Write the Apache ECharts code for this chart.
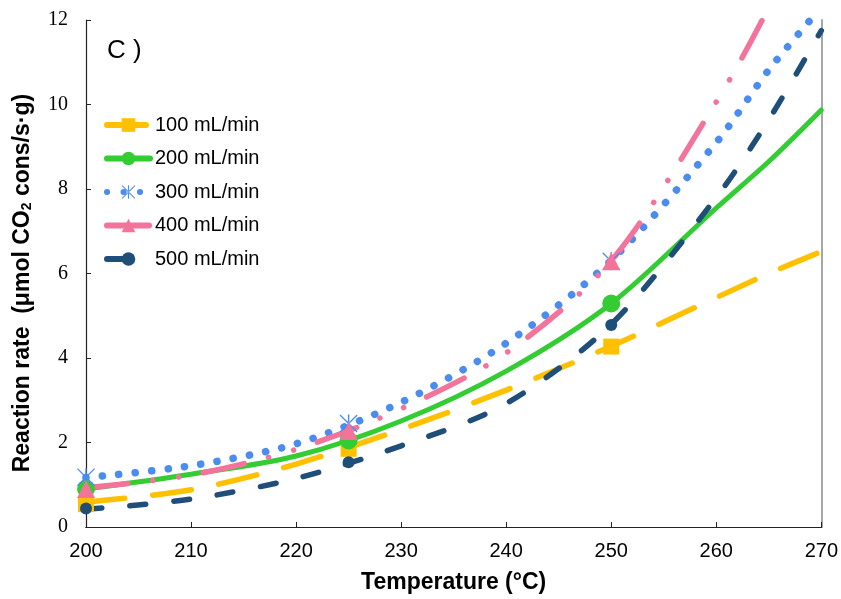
<!DOCTYPE html>
<html>
<head>
<meta charset="utf-8">
<script src="https://cdn.jsdelivr.net/npm/echarts@6/dist/echarts.min.js"></script>
<style>
  html, body { margin: 0; padding: 0; background: #fff; }
  #chart { width: 841px; height: 599px; }
</style>
</head>
<body>
<div id="chart"></div>
<script>
// trend curves
const temps = [200, 210, 220, 230, 240, 250, 260, 265, 270];
const fit100 = [0.59, 0.88, 1.49, 2.31, 3.24, 4.28, 5.43, 6.0, 6.52];
const fit200 = [0.90, 1.25, 1.68, 2.51, 3.69, 5.29, 7.55, 8.65, 9.87];
const fit300 = [1.17, 1.45, 1.97, 2.95, 4.35, 6.31, 9.1, 10.82, 12.3];
const fit400 = [0.93, 1.23, 1.84, 2.80, 4.12, 6.30, 10.06, 12.3, 15.0];
const fit500 = [0.42, 0.66, 1.15, 1.92, 2.92, 4.80, 7.80, 9.64, 11.75];

// measured points
const measTemps = [200, 225, 250];
const meas100 = [0.54, 1.85, 4.27];
const meas200 = [0.90, 2.05, 5.29];
const meas300 = [1.18, 2.45, 6.29];
const meas400 = [0.90, 2.27, 6.29];
const meas500 = [0.44, 1.53, 4.78];

const names = ["100 mL/min", "200 mL/min", "300 mL/min", "400 mL/min", "500 mL/min"];

const starPath = "path://M4.6,0 h0.8 v10 h-0.8z M0,0.5 L0.5,0 L10,9.5 L9.5,10z M10,0.5 L9.5,0 L0,9.5 L0.5,10z";

function pairs(xs, ys) {
  return xs.map((x, i) => [x, ys[i]]);
}

const styles = [
  { color: "#FFC000", symbol: "rect", size: 16, width: 5.5, type: [39, 28] },
  { color: "#33CC33", symbol: "circle", size: 18, width: 5, type: "solid" },
  { color: "#4A8CF0", symbol: starPath, size: 18, width: 7.5, type: [0.1, 16.4] },
  { color: "#F4739B", symbol: "triangle", size: 18, width: 5.5, type: [42, 25, 0.1, 26, 0.1, 25] },
  { color: "#1F4E79", symbol: "circle", size: 12, width: 5.5, type: [16, 28] }
];
const fits = [fit100, fit200, fit300, fit400, fit500];
const meas = [meas100, meas200, meas300, meas400, meas500];

let series = [];
names.forEach((n, i) => {
  const s = styles[i];
  series.push({
    name: n,
    type: "line",
    data: pairs(temps, fits[i]),
    smooth: 0.3,
    symbol: s.symbol,
    showSymbol: false,
    itemStyle: { color: s.color },
    lineStyle: { color: s.color, width: s.width, type: s.type, cap: "round" },
    z: 2
  });
});
names.forEach((n, i) => {
  const s = styles[i];
  series.push({
    name: n,
    type: "scatter",
    data: pairs(measTemps, meas[i]),
    symbol: s.symbol,
    symbolSize: s.size,
    itemStyle: { color: s.color, opacity: 1 },
    z: 3
  });
});

let myChart = echarts.init(document.getElementById("chart"));
myChart.setOption({
  animation: false,
  title: {
    text: "C )",
    left: 102,
    top: 33,
    textStyle: { fontFamily: "Liberation Sans", fontSize: 26, fontWeight: "normal", color: "#000" }
  },
  legend: {
    data: names,
    orient: "vertical",
    left: 104,
    top: 115,
    padding: 0,
    itemWidth: 43,
    itemHeight: 17,
    itemGap: 13.5,
    lineStyle: { width: 6, cap: "round" },
    textStyle: { fontFamily: "Liberation Sans", fontSize: 20, color: "#000" }
  },
  grid: { left: 86, right: 17, top: 20, bottom: 71 },
  xAxis: [
    {
      type: "value",
      min: 200,
      max: 270,
      interval: 10,
      name: "Temperature (°C)",
      nameLocation: "middle",
      nameGap: 44,
      nameTextStyle: { fontFamily: "Liberation Sans", fontSize: 23, fontWeight: "bold", color: "#000" },
      axisLine: { lineStyle: { color: "#222", width: 1.2 } },
      axisTick: { inside: true, length: 5, lineStyle: { color: "#222" } },
      axisLabel: { margin: 14, fontFamily: "Liberation Sans", fontSize: 20, color: "#000" },
      splitLine: { show: false }
    },
    {
      type: "value",
      position: "top",
      min: 200,
      max: 270,
      axisLine: { show: true, lineStyle: { color: "#222", width: 1.2 } },
      axisTick: { show: false },
      axisLabel: { show: false },
      splitLine: { show: false }
    }
  ],
  yAxis: [
    {
      type: "value",
      min: 0,
      max: 12,
      interval: 2,
      name: "Reaction rate  (μmol CO{sub|2} cons/s·g)   ",
      nameLocation: "middle",
      nameGap: 52,
      nameTextStyle: {
        fontFamily: "Liberation Sans",
        fontSize: 23,
        fontWeight: "bold",
        color: "#000",
        rich: {
          sub: { fontFamily: "Liberation Sans", fontSize: 14, fontWeight: "bold", color: "#000", verticalAlign: "bottom", padding: [9, 0, 0, 0] }
        }
      },
      axisLine: { show: true, lineStyle: { color: "#222", width: 1.2 } },
      axisTick: { show: true, inside: true, length: 5, lineStyle: { color: "#222" } },
      axisLabel: { margin: 18, fontFamily: "Liberation Serif", fontSize: 20, color: "#000" },
      splitLine: { show: false }
    },
    {
      type: "value",
      position: "right",
      min: 0,
      max: 12,
      axisLine: { show: true, lineStyle: { color: "#a6a6a6", width: 2 } },
      axisTick: { show: false },
      axisLabel: { show: false },
      splitLine: { show: false }
    }
  ],
  series: series
});
</script>
</body>
</html>
